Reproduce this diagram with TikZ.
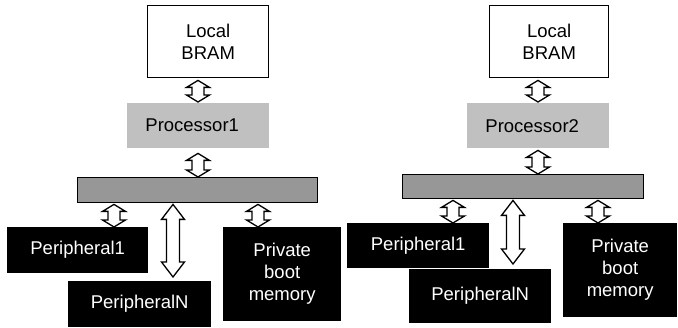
\documentclass[tikz,border=0pt]{standalone}
\usepackage{fontspec}
\setmainfont{Liberation Sans}
\usetikzlibrary{calc}

\definecolor{procgray}{HTML}{C0C0C0}
\definecolor{busgray}{HTML}{979797}

\tikzset{
  box/.style={rectangle, inner sep=0pt, anchor=north west, align=center,
    font=\fontsize{18.5}{22}\selectfont},
  membox/.style={box, draw=black, line width=1.4pt, fill=white},
  procbox/.style={box, fill=procgray},
  busbox/.style={box, draw=black, line width=1.4pt, fill=busgray},
  devbox/.style={box, fill=black, text=white},
  busarrow/.style={draw=black, fill=white, line width=1.3pt, line join=miter}
}

% vertical double-headed block arrow: #1 top point, #2 bottom point,
% #3 head half-width, #4 shaft half-width, #5 head length
\newcommand\dblarrow[5]{%
  \draw[busarrow] let \p1=#1, \p2=#2 in
    (\x1,\y1) -- (\x1+#3,\y1-#5) -- (\x1+#4,\y1-#5) -- (\x1+#4,\y2+#5)
    -- (\x1+#3,\y2+#5) -- (\x1,\y2) -- (\x1-#3,\y2+#5) -- (\x1-#4,\y2+#5)
    -- (\x1-#4,\y1-#5) -- (\x1-#3,\y1-#5) -- cycle;}

\begin{document}
\begin{tikzpicture}[x=1pt,y=-1pt]
\useasboundingbox (0,0) rectangle (678,328);

% ---------- first processor subsystem ----------
\node[membox, minimum width=121pt, minimum height=72pt] (bramA) at (147,5) {Local\\BRAM};
\node[procbox, minimum width=142pt, minimum height=45pt] (procA) at (127,103) {Processor1\hspace*{12pt}};
\node[busbox, minimum width=240pt, minimum height=25pt] (busA) at (77,177) {};
\node[devbox, minimum width=141pt, minimum height=46pt] (perA) at (7,227) {Peripheral1};
\node[devbox, minimum width=143pt, minimum height=46pt] (perNA) at (68,281) {PeripheralN};
\node[devbox, minimum width=118pt, minimum height=94pt] (bootA) at (223,227) {Private\\boot\\memory};

\coordinate (cA) at (198,0);
\coordinate (pA) at (114,0);
\coordinate (nA) at (173,0);
\coordinate (mA) at (258,0);

\dblarrow{($(bramA.south -| cA)+(0,2)$)}{($(procA.north -| cA)+(0,-1)$)}{11.5pt}{6pt}{7pt}
\dblarrow{($(procA.south -| cA)+(0,5)$)}{(busA.north -| cA)}{11.5pt}{6pt}{7pt}
\dblarrow{($(busA.south -| pA)+(0,1)$)}{(perA.north -| pA)}{11.5pt}{6pt}{7pt}
\dblarrow{($(busA.south -| nA)+(0,1)$)}{($(perNA.north -| nA)+(0,-4)$)}{11.5pt}{6.5pt}{15pt}
\dblarrow{($(busA.south -| mA)+(0,1)$)}{(bootA.north -| mA)}{11.5pt}{6pt}{7pt}

% ---------- second processor subsystem ----------
\node[membox, minimum width=119pt, minimum height=72pt] (bramB) at (489,5) {Local\\BRAM};
\node[procbox, minimum width=142pt, minimum height=45pt] (procB) at (467,103) {Processor2\hspace*{12pt}};
\node[busbox, minimum width=241pt, minimum height=24pt] (busB) at (402,174) {};
\node[devbox, minimum width=142pt, minimum height=45pt] (perB) at (347,223) {Peripheral1};
\node[devbox, minimum width=142pt, minimum height=54pt] (perNB) at (409,269) {PeripheralN};
\node[devbox, minimum width=114pt, minimum height=94pt] (bootB) at (563,223) {Private\\boot\\memory};

\coordinate (cB) at (538,0);
\coordinate (pB) at (453,0);
\coordinate (nB) at (513,0);
\coordinate (mB) at (598,0);

\dblarrow{($(bramB.south -| cB)+(0,2)$)}{($(procB.north -| cB)+(0,-1)$)}{11.5pt}{6pt}{7pt}
\dblarrow{($(procB.south -| cB)+(0,2)$)}{(busB.north -| cB)}{11.5pt}{6pt}{7pt}
\dblarrow{($(busB.south -| pB)+(0,1)$)}{(perB.north -| pB)}{11.5pt}{6pt}{7pt}
\dblarrow{($(busB.south -| nB)+(0,1)$)}{($(perNB.north -| nB)+(0,-5)$)}{11.5pt}{6.5pt}{15pt}
\dblarrow{($(busB.south -| mB)+(0,1)$)}{(bootB.north -| mB)}{11.5pt}{6pt}{7pt}
\end{tikzpicture}
\end{document}
